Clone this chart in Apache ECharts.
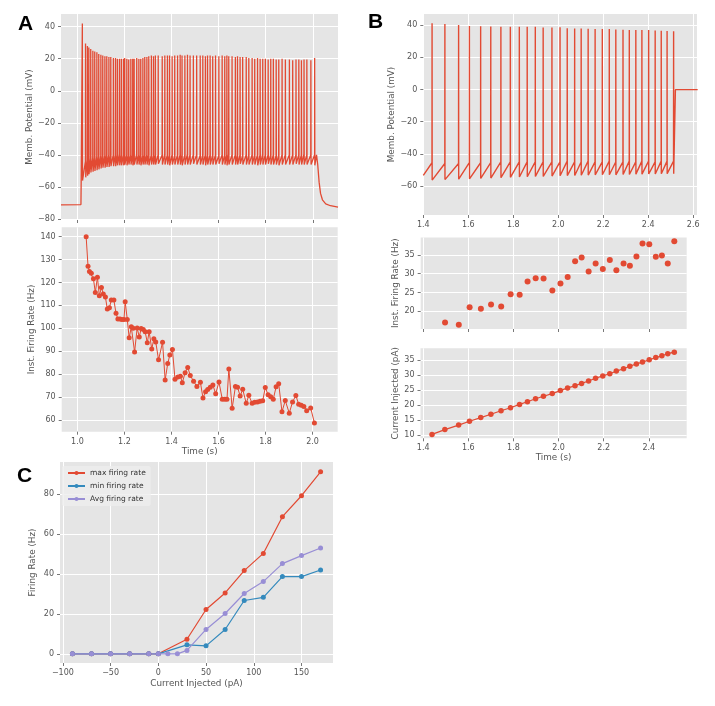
<!DOCTYPE html>
<html>
<head>
<meta charset="utf-8">
<script src="https://cdn.jsdelivr.net/npm/echarts@6/dist/echarts.min.js"></script>
<style>
html,body{margin:0;padding:0;background:#fff;}
#main{width:715px;height:706px;}
</style>
</head>
<body>
<div id="main"></div>
<script>
// ---------- panel A : 1 s step, dense spiking ----------
var spikeTimesA = [1.0235,
  1.037,1.045,1.051,1.059,1.068,1.076,1.085,1.093,1.102,1.110,
  1.119,1.127,1.136,1.144,1.155,1.164,1.172,1.181,1.189,1.198,
  1.203,1.212,1.220,1.229,1.237,1.243,1.254,1.263,1.271,1.280,
  1.288,1.297,1.305,1.316,1.325,1.333,1.345,1.362,1.373,1.384,
  1.393,1.404,1.415,1.427,1.438,1.446,1.458,1.469,1.480,1.494,
  1.508,1.523,1.534,1.545,1.554,1.565,1.576,1.588,1.602,1.616,
  1.627,1.636,1.644,1.658,1.672,1.681,1.692,1.703,1.718,1.729,
  1.743,1.754,1.766,1.777,1.788,1.799,1.811,1.822,1.833,1.845,
  1.856,1.870,1.884,1.901,1.915,1.929,1.941,1.952,1.963,1.975,
  1.992,2.008];
// inst. rate, one value per spike after the first
var rateA = [140,127.1,124.8,124,121.6,115.6,122.3,114.2,117.8,115,
  113.6,108.4,109,112.3,112.3,106.5,104,104,103.8,103.8,
  111.6,103.8,95.8,100.6,100,89.6,100.1,96.2,99.9,99.4,
  98.5,93.7,98.5,90.9,95.4,94,86.2,93.9,77.4,84.6,
  88.3,90.7,77.7,78.7,79,76.2,80.6,82.9,79.4,76.8,
  74.5,76.4,69.5,72.3,73.2,74.2,75.2,71.4,76.5,69,
  69,69,82.2,65,74.5,74.2,70.4,73.3,67.2,70.7,
  67.2,67.7,67.8,68.1,68.3,74.1,70.9,70.1,69,74.4,
  75.8,63.5,68.4,62.9,67.8,70.6,66.8,66.4,65.8,63.9,
  65.2,58.6];
var peakA = [42,
  29.5,28,27,26,25,24.5,24,23,22.5,22,
  21.5,21.5,21,21,20.5,20.5,20,20,20,20,
  20.5,20,19.5,20,20,20,20.5,20,20,20.5,
  21,21,21.5,22,21.5,22,22,21.5,22,22,
  22,21.5,22,22,22.5,22,22,22.5,22,22,
  22,22,22,21.5,22,22,21.5,22,21.5,22,
  21.5,22,21.5,21.5,21,21.5,21,21,21,20.5,
  20.5,20,20.5,20,20,20,19.5,20,20,19.5,
  19.5,20,19.5,19.5,19,19.5,19.5,19,19.5,19.5,
  19,20.5];
var ahpA = [-56,
  -54,-53,-52,-51,-50.5,-50,-49.5,-49,-48.5,-48,
  -48,-47.5,-47.5,-47,-47,-47,-46.5,-46.5,-46.5,-46.5,
  -46,-46.5,-46,-46,-46.5,-46,-46,-46,-46.5,-46,
  -46,-46,-46.5,-46,-46,-46,-45.5,-46,-46,-46,
  -46.5,-46,-46,-46,-46,-46.5,-46,-46,-46,-45.5,
  -46,-46,-46,-46.5,-46,-46,-46,-46,-45.5,-46,
  -46,-46.5,-46,-46,-46,-46,-45.5,-46,-46,-46,
  -46,-46,-46.5,-46,-46,-46,-45.5,-46,-46,-46,
  -46.5,-46,-46,-46,-46,-45.5,-46,-46,-46,-46,
  -46,-46.5];
var thrA = [-56,
  -44,-43,-42.5,-42,-41.5,-41.5,-41,-41,-40.5,-40.5,
  -40.5,-40,-40,-40.5,-40,-40,-40,-39.5,-40,-40,
  -40,-40,-40.5,-40,-40,-40,-39.5,-40,-40,-40.5,
  -40,-40,-40,-40,-40.5,-40,-40,-40,-39.5,-40,
  -40,-40,-40.5,-40,-40,-40,-40,-39.5,-40,-40,
  -40,-40.5,-40,-40,-40,-40,-40,-40,-40.5,-40,
  -40,-40,-39.5,-40,-40,-40,-40,-40.5,-40,-40,
  -40,-40,-40,-40,-39.5,-40,-40,-40,-40,-40.5,
  -40,-40,-40,-40,-40,-40,-40,-40,-39.5,-40,
  -40,-40];
var preA = [[0.933,-71.2],[1.0175,-71.0],[1.0185,-57]];
var tailA = [[2.016,-40],[2.021,-46],[2.027,-57],[2.033,-64],[2.041,-68],[2.055,-70.5],[2.075,-71.7],[2.107,-72.6]];

// ---------- panel B : ramp current ----------
var spikeTimesB = [1.439,1.496,1.557,1.605,1.655,1.700,1.745,1.787,1.827,1.862,
  1.898,1.933,1.972,2.008,2.040,2.073,2.102,2.133,2.164,2.196,
  2.227,2.256,2.288,2.316,2.345,2.372,2.402,2.431,2.458,2.484,2.513];
var peakB = [41.2,40.8,40.2,39.6,39.4,39.2,39,39,39,39,
  39,38.6,38.6,38.8,38.2,38,38,37.8,37.6,37.6,
  37.6,37.4,37.2,37,37,37,37,36.8,36.6,36.5,36.3];
var resetB = [-56.3,-56,-55.7,-55.5,-55.3,-55,-54.8,-54.6,-54.4,-54.2,
  -54,-54,-53.8,-53.6,-53.5,-53.4,-53.3,-53.2,-53,-53,
  -53,-53,-52.8,-52.8,-52.6,-52.6,-52.5,-52.5,-52.4,-52.3,-52.3];
var thrB = [-45.5,-46,-46,-45.5,-45.5,-45.5,-45,-45,-45,-45,
  -45,-45,-45,-45,-44.5,-45,-45,-44.5,-45,-45,
  -44.5,-45,-45,-44.5,-45,-44.5,-44.5,-45,-44.5,-44.5,-44.5];
var preB = [[1.4,-53.3]];
var tailB = [[2.5205,-51.5],[2.521,0],[2.62,0]];
var rateB = [17.0,16.4,21.1,20.7,21.8,21.25,24.5,24.4,27.9,28.8,
  28.7,25.5,27.4,29.1,33.3,34.3,30.6,32.7,31.25,33.6,
  30.9,32.7,32.1,34.55,38.0,37.8,34.5,34.8,32.7,38.6];
var currentB = [10.2,11.8,13.3,14.6,15.8,16.9,18.1,19.1,20.2,21.1,
  22.1,22.9,23.8,24.8,25.7,26.4,27.2,28.0,28.9,29.7,
  30.4,31.3,32.1,32.9,33.7,34.3,35.1,35.8,36.4,37.1,37.6];

// ---------- panel C : f-I curve ----------
var currentC = [-90,-70,-50,-30,-10,0,10,20,30,50,70,90,110,130,150,170];
var currentCmaxmin = [-90,-70,-50,-30,-10,0,30,50,70,90,110,130,150,170];
var maxRate = [0,0,0,0,0,0,7.3,22.2,30.5,41.7,50.3,68.7,79.2,91.2];
var minRate = [0,0,0,0,0,0,4.5,4.0,12.2,26.7,28.3,38.7,38.7,42];
var avgRate = [0,0,0,0,0,0,0,0,1.7,12.2,20.2,30.2,36.2,45.2,49.2,53];

// tick positions
var ticksTimeA = [1.0,1.2,1.4,1.6,1.8,2.0];
var ticksVA = [-80,-60,-40,-20,0,20,40];
var ticksRateA = [60,70,80,90,100,110,120,130,140];
var ticksTimeB1 = [1.4,1.6,1.8,2.0,2.2,2.4,2.6];
var ticksTimeB = [1.4,1.6,1.8,2.0,2.2,2.4];
var ticksVB = [-60,-40,-20,0,20,40];
var ticksRateB = [20,25,30,35];
var ticksCurB = [10,15,20,25,30,35];
var ticksIC = [-100,-50,0,50,100,150];
var ticksFC = [0,20,40,60,80];

var RED = '#E24A33', BLUE = '#348ABD', PURPLE = '#988ED5';
var FONT = 'DejaVu Sans';

function traceFrom(pre, times, thr, peak, low, tail, dUp, dDown) {
  var out = pre.slice();
  for (var i = 0; i < times.length; i++) {
    out.push([times[i] - dUp, thr[i]]);
    out.push([times[i], peak[i]]);
    out.push([times[i] + dDown, low[i]]);
  }
  return out.concat(tail);
}
function zip(xs, ys) {
  var out = [];
  for (var i = 0; i < ys.length; i++) out.push([xs[i], ys[i]]);
  return out;
}
function fmt(v, d) {
  return v.toFixed(d).replace('-', '\u2212');
}

function valAxis(grid, min, max, ticks, showLabel, digits, name, gap) {
  return {
    type: 'value', gridIndex: grid, min: min, max: max,
    axisLine: {show: false, onZero: false},
    axisTick: {show: true, length: 3, customValues: ticks, lineStyle: {color: '#555', width: 0.8}},
    axisLabel: {show: showLabel, customValues: ticks, color: '#555', fontSize: 8, margin: 6, fontFamily: FONT,
      formatter: function (v) { return fmt(v, digits); }},
    splitLine: {show: true, lineStyle: {color: '#fff', width: 1}},
    name: name || '', nameLocation: 'middle', nameGap: gap || 20,
    nameTextStyle: {color: '#555', fontSize: 8.8, fontFamily: FONT}
  };
}

var grids = [
  {left: 61, top: 14, width: 277, height: 206},
  {left: 61.7, top: 227.3, width: 276, height: 204.4},
  {left: 423.3, top: 14, width: 273.7, height: 201},
  {left: 420.7, top: 237.5, width: 266, height: 91.5},
  {left: 420.5, top: 348.3, width: 266.2, height: 90},
  {left: 60, top: 462, width: 273, height: 201}
];
grids.forEach(function (g) { g.show = true; g.backgroundColor = '#E5E5E5'; g.borderWidth = 0; });

var option = {
  animation: false,
  backgroundColor: '#fff',
  grid: grids,
  xAxis: [
    valAxis(0, 0.933, 2.107, ticksTimeA, false, 1),
    valAxis(1, 0.933, 2.107, ticksTimeA, true, 1, 'Time (s)', 16),
    valAxis(2, 1.4, 2.617, ticksTimeB1, true, 1),
    valAxis(3, 1.388, 2.568, ticksTimeB, false, 1),
    valAxis(4, 1.388, 2.568, ticksTimeB, true, 1, 'Time (s)', 14),
    valAxis(5, -103, 183, ticksIC, true, 0, 'Current Injected (pA)', 16)
  ],
  yAxis: [
    valAxis(0, -80.6, 47.9, ticksVA, true, 0, 'Memb. Potential (mV)', 26),
    valAxis(1, 54.8, 144.1, ticksRateA, true, 0, 'Inst. Firing Rate (Hz)', 24),
    valAxis(2, -78, 47, ticksVB, true, 0, 'Memb. Potential (mV)', 26),
    valAxis(3, 15.3, 39.6, ticksRateB, true, 0, 'Inst. Firing Rate (Hz)', 19.5),
    valAxis(4, 8.9, 38.9, ticksCurB, true, 0, 'Current Injected (pA)', 19.5),
    valAxis(5, -4.6, 96.1, ticksFC, true, 0, 'Firing Rate (Hz)', 22.5)
  ],
  legend: {
    left: 62, top: 466, orient: 'vertical',
    itemWidth: 17, itemHeight: 5, itemGap: 5,
    padding: [3, 5, 3, 5],
    backgroundColor: 'rgba(238,238,238,0.8)', borderRadius: 2,
    textStyle: {fontSize: 7.5, color: '#333', fontFamily: FONT},
    data: ['max firing rate', 'min firing rate', 'Avg firing rate']
  },
  graphic: [
    {type: 'text', left: 18, top: 14, style: {text: 'A', font: 'bold 21px "Liberation Sans"', fill: '#000'}},
    {type: 'text', left: 368, top: 12, style: {text: 'B', font: 'bold 21px "Liberation Sans"', fill: '#000'}},
    {type: 'text', left: 17, top: 466, style: {text: 'C', font: 'bold 21px "Liberation Sans"', fill: '#000'}}
  ],
  series: [
    {type: 'line', xAxisIndex: 0, yAxisIndex: 0, showSymbol: false, symbol: 'none',
      lineStyle: {color: RED, width: 1.3}, data: traceFrom(preA, spikeTimesA, thrA, peakA, ahpA, tailA, 0.0005, 0.0008)},
    {type: 'line', xAxisIndex: 1, yAxisIndex: 1, symbol: 'circle', symbolSize: 5,
      itemStyle: {color: RED}, lineStyle: {color: RED, width: 1}, data: zip(spikeTimesA.slice(1), rateA)},
    {type: 'line', xAxisIndex: 2, yAxisIndex: 2, showSymbol: false, symbol: 'none',
      lineStyle: {color: RED, width: 1.4}, data: traceFrom(preB, spikeTimesB, thrB, peakB, resetB, tailB, 0.0003, 0.0004)},
    {type: 'scatter', xAxisIndex: 3, yAxisIndex: 3, symbolSize: 6,
      itemStyle: {color: RED, opacity: 1}, data: zip(spikeTimesB.slice(1), rateB)},
    {type: 'line', xAxisIndex: 4, yAxisIndex: 4, symbol: 'circle', symbolSize: 5.5,
      itemStyle: {color: RED}, lineStyle: {color: RED, width: 1.2}, data: zip(spikeTimesB, currentB)},
    {name: 'max firing rate', type: 'line', xAxisIndex: 5, yAxisIndex: 5, symbol: 'circle', symbolSize: 5,
      itemStyle: {color: RED}, lineStyle: {color: RED, width: 1.2}, data: zip(currentCmaxmin, maxRate)},
    {name: 'min firing rate', type: 'line', xAxisIndex: 5, yAxisIndex: 5, symbol: 'circle', symbolSize: 5,
      itemStyle: {color: BLUE}, lineStyle: {color: BLUE, width: 1.2}, data: zip(currentCmaxmin, minRate)},
    {name: 'Avg firing rate', type: 'line', xAxisIndex: 5, yAxisIndex: 5, symbol: 'circle', symbolSize: 5,
      itemStyle: {color: PURPLE}, lineStyle: {color: PURPLE, width: 1.2}, data: zip(currentC, avgRate)}
  ]
};

var myChart = echarts.init(document.getElementById('main'), null, {renderer: 'canvas'});
myChart.setOption(option);
</script>
</body>
</html>
